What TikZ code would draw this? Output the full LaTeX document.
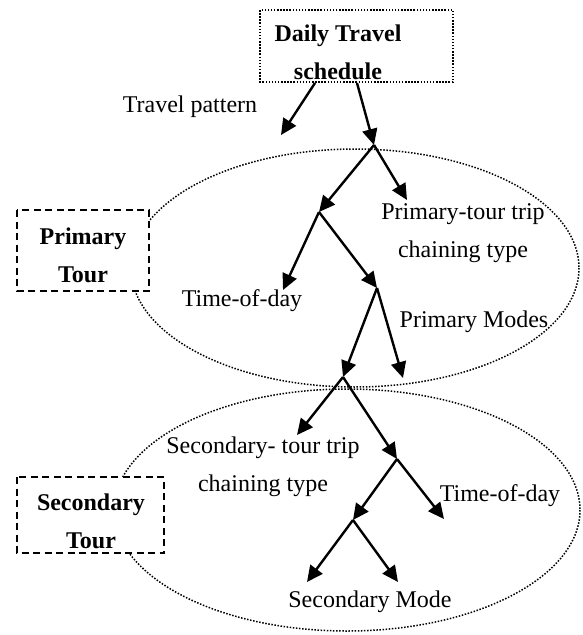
\documentclass[tikz,border=0pt]{standalone}
\usepackage{fontspec}
\setmainfont{Liberation Serif}
\usetikzlibrary{arrows.meta}
\begin{document}
\begin{tikzpicture}[x=1pt,y=-1pt,
  lbl/.style={font=\fontsize{24}{38}\selectfont, align=center, inner sep=0pt},
  blbl/.style={font=\fontsize{24}{38}\selectfont\bfseries, align=center, inner sep=0pt},
  arr/.style={line width=2.4pt, -{Triangle[length=16pt,width=15pt]}},
  dotline/.style={line width=1.5pt, dash pattern=on 1.5pt off 1.6pt},
  dashbox/.style={draw, fill=white, line width=1.8pt, dash pattern=on 7pt off 4.5pt}]
\useasboundingbox (0,0) rectangle (582,635);
% ellipses
\draw[dotline] (355,268) ellipse [x radius=224, y radius=119];
\draw[dotline] (347,510) ellipse [x radius=233, y radius=121];
% top box
\draw[dotline] (260,10) rectangle (453,82);
\node[blbl] (daily) at (338,52) {Daily Travel\\schedule};
% side boxes
\draw[dashbox] (17,210) rectangle (149,291);
\node[blbl] (ptour) at (83,255) {Primary\\Tour};
\draw[dashbox] (17,477) rectangle (164,553);
\node[blbl] (stour) at (91,521) {Secondary\\Tour};
% labels
\node[lbl] (tpat) at (190,107) {Travel pattern};
\node[lbl] (pchain) at (463,233) {Primary-tour trip\\chaining type};
\node[lbl] (ptod) at (242,301) {Time-of-day};
\node[lbl] (pmode) at (474,322) {Primary Modes};
\node[lbl] (schain) at (263,467) {Secondary- tour trip\\chaining type};
\node[lbl] (stod) at (500,496) {Time-of-day};
\node[lbl] (smode) at (370,602) {Secondary Mode};
% coordinates
\coordinate (s1) at (315,83);
\coordinate (s2) at (357,83);
\coordinate (e1) at (281,135);
\coordinate (j1) at (374,145);
\coordinate (j2) at (319,212);
\coordinate (c1) at (407,200);
\coordinate (c2) at (283,290);
\coordinate (j3) at (377,288);
\coordinate (j4) at (343,377);
\coordinate (c3) at (403,378);
\coordinate (c4) at (297,435);
\coordinate (j5) at (397,459);
\coordinate (j6) at (353,520);
\coordinate (c5) at (444,519);
\coordinate (c6) at (307,582);
\coordinate (c7) at (398,582);
% arrows
\draw[arr] (s1) -- (e1);
\draw[arr] (s2) -- (j1);
\draw[arr] (j1) -- (j2);
\draw[arr] (j1) -- (c1);
\draw[arr] (j2) -- (c2);
\draw[arr] (j2) -- (j3);
\draw[arr] (j3) -- (j4);
\draw[arr] (j3) -- (c3);
\draw[arr] (j4) -- (c4);
\draw[arr] (j4) -- (j5);
\draw[arr] (j5) -- (j6);
\draw[arr] (j5) -- (c5);
\draw[arr] (j6) -- (c6);
\draw[arr] (j6) -- (c7);
\end{tikzpicture}
\end{document}
